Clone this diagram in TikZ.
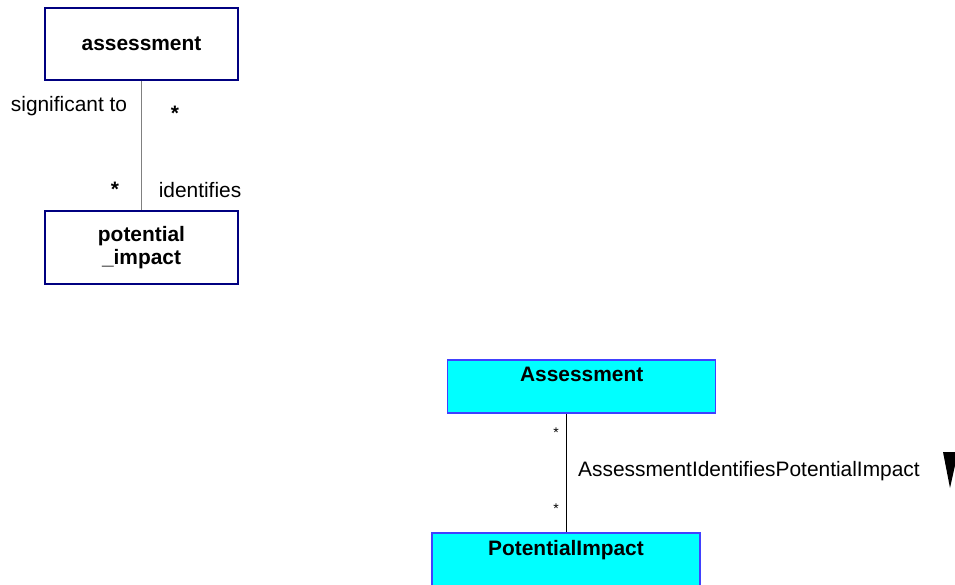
\documentclass[tikz,border=0pt]{standalone}
\usepackage{fontspec}
\setmainfont{Liberation Sans}
\usepackage{tikz}

\definecolor{umlnavy}{RGB}{0,0,128}
\definecolor{umlgrey}{RGB}{128,128,128}
\definecolor{umlblue}{RGB}{64,64,255}
\definecolor{umlcyan}{RGB}{0,255,255}

\begin{document}
\begin{tikzpicture}
[
    x = 1pt, y = -1pt,
    font = \fontsize{20.9}{23}\selectfont,
    entity/.style = {draw = umlnavy, line width = 2pt, fill = white, inner sep = 0pt,
                     minimum width = 193pt, font = \fontsize{20.9}{23}\selectfont\bfseries},
    klass/.style = {draw = umlblue, line width = 1.3pt, fill = umlcyan, inner sep = 0pt,
                    minimum width = 268pt, minimum height = 53pt},
    role/.style = {inner sep = 0pt},
    mult/.style = {inner sep = 0pt, font = \fontsize{14}{16}\selectfont},
]
\useasboundingbox (0,0) rectangle (955,585);

% old notation
\node[entity, minimum height = 72pt] (assess) at (141.5,44) {assessment};
\node[entity, minimum height = 73pt, align = center] (impact) at (141.5,247.5) {potential\\\_impact};
\draw[umlgrey, line width = 1.4pt] (assess.south) -- (impact.north);
\node[role] (sigto) at (69,106) {significant to};
\node[role] (ident) at (200,190) {identifies};
\node[role] (starA) at (175,113) {\textbf{*}};
\node[role] (starB) at (115,189) {\textbf{*}};

% class notation
\node[klass, label = {[anchor = north, yshift = -4.5pt, font = \fontsize{20.9}{23}\selectfont\bfseries]north:Assessment}]
    (Assess) at (581.7,386.5) {};
\node[klass, label = {[anchor = north, yshift = -4.5pt, font = \fontsize{20.9}{23}\selectfont\bfseries]north:PotentialImpact}]
    (PotImp) at (566,559.5) {};
\draw[black, line width = 1pt] (PotImp.north) -- (PotImp.north |- Assess.south);
\node[mult] (multA) at (556,433) {*};
\node[mult] (multB) at (556,509) {*};
\node[role, anchor = west] (assoc) at (578,471) {AssessmentIdentifiesPotentialImpact};
\fill (943,452) -- (958,452) -- (950,488) -- cycle;
\end{tikzpicture}
\end{document}
